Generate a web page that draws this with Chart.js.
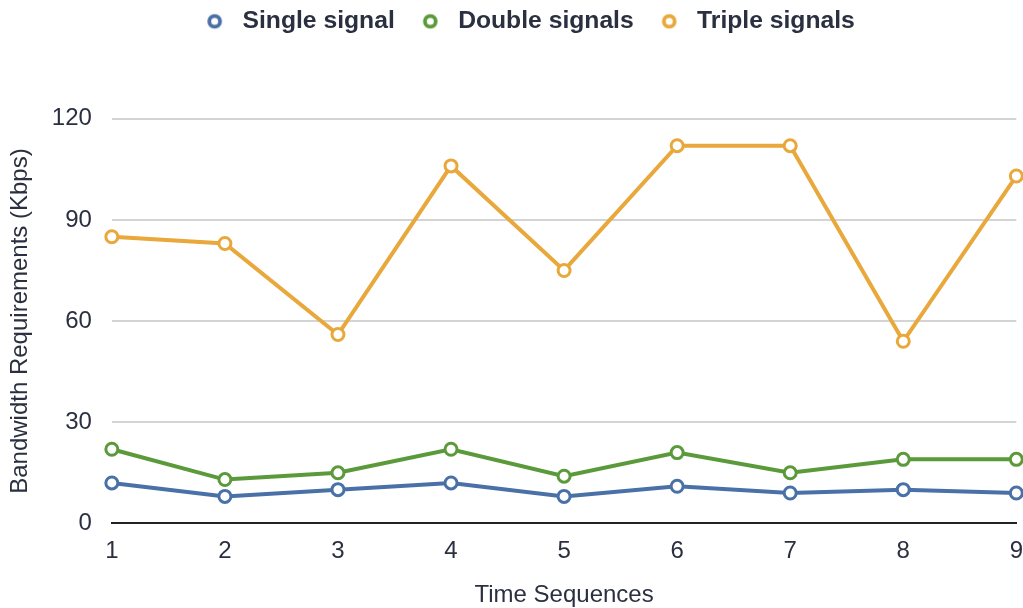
<!DOCTYPE html>
<html>
<head>
<meta charset="utf-8">
<script src="https://cdn.jsdelivr.net/npm/chart.js@4/dist/chart.umd.min.js"></script>
<style>
  html, body { margin: 0; padding: 0; background: #fff; }
  #wrap { width: 1023px; height: 608px; }
</style>
</head>
<body>
<div id="wrap"><canvas id="chart"></canvas></div>
<script>
// Data
const timeLabels = ['1', '2', '3', '4', '5', '6', '7', '8', '9'];
const singleSignal = [12, 8, 10, 12, 8, 11, 9, 10, 9];
const doubleSignals = [22, 13, 15, 22, 14, 21, 15, 19, 19];
const tripleSignals = [85, 83, 56, 106, 75, 112, 112, 54, 103];
const yTicks = [0, 30, 60, 90, 120];

const seriesColors = ['#4a70a8', '#5b9a3a', '#e8a83c'];

function makeSeries(label, data, color) {
    return {
        label: label,
        data: data,
        borderColor: color,
        backgroundColor: color,
        borderWidth: 4,
        pointRadius: 6,
        pointHoverRadius: 6,
        pointBorderWidth: 3,
        pointBackgroundColor: '#ffffff',
        pointBorderColor: color,
        tension: 0,
        clip: false
    };
}

// small ring used as legend marker, drawn left of the box center
function legendMarker(color) {
    const c = document.createElement('canvas');
    c.width = 24;
    c.height = 24;
    const g = c.getContext('2d');
    g.beginPath();
    g.arc(8.5, 12, 5.4, 0, Math.PI * 2);
    g.fillStyle = '#ffffff';
    g.fill();
    g.lineWidth = 3.8;
    g.strokeStyle = color;
    g.stroke();
    return c;
}

const axisFont = { family: '"Liberation Sans", Arial, sans-serif', size: 24 };

const ctx = document.getElementById('chart').getContext('2d');
new Chart(ctx, {
    type: 'line',
    data: {
        labels: timeLabels,
        datasets: [
            makeSeries('Single signal', singleSignal, seriesColors[0]),
            makeSeries('Double signals', doubleSignals, seriesColors[1]),
            makeSeries('Triple signals', tripleSignals, seriesColors[2])
        ]
    },
    options: {
        responsive: true,
        maintainAspectRatio: false,
        animation: false,
        layout: { autoPadding: false, padding: { top: -18, left: 6, right: 0, bottom: -2 } },
        plugins: {
            tooltip: { enabled: false },
            legend: {
                position: 'top',
                labels: {
                    usePointStyle: true,
                    boxWidth: 24,
                    boxHeight: 24,
                    padding: 27,
                    color: '#2b3040',
                    font: { family: '"Liberation Sans", Arial, sans-serif', size: 24.7, weight: 'bold' },
                    generateLabels: function (chart) {
                        return chart.data.datasets.map(function (ds, i) {
                            return {
                                text: ds.label,
                                fillStyle: '#ffffff',
                                strokeStyle: ds.borderColor,
                                lineWidth: 0,
                                pointStyle: legendMarker(seriesColors[i]),
                                fontColor: '#2b3040',
                                datasetIndex: i
                            };
                        });
                    }
                }
            }
        },
        scales: {
            x: {
                offset: false,
                grid: { display: false, drawTicks: true, tickLength: 14 },
                border: { display: true, color: '#222222', width: 2 },
                ticks: {
                    color: '#2b3040',
                    padding: 0,
                    maxRotation: 0,
                    font: axisFont
                },
                title: {
                    display: true,
                    text: 'Time Sequences',
                    color: '#2b3040',
                    padding: { top: 15, bottom: 0 },
                    font: axisFont
                }
            },
            y: {
                min: 0,
                max: 120,
                afterBuildTicks: function (axis) {
                    axis.ticks = yTicks.map(function (v) { return { value: v }; });
                },
                grid: { color: '#d4d4d4', lineWidth: 2, drawTicks: false },
                border: { display: false },
                ticks: {
                    color: '#2b3040',
                    padding: 20,
                    font: axisFont
                },
                title: {
                    display: true,
                    text: 'Bandwidth Requirements (Kbps)',
                    color: '#2b3040',
                    padding: { top: 0, bottom: -3 },
                    font: axisFont
                }
            }
        }
    },
    plugins: [{
        id: 'legendGap',
        beforeInit: function (chart) {
            const fit = chart.legend.fit;
            chart.legend.fit = function () {
                fit.bind(chart.legend)();
                this.height += 75;
            };
        },
        afterLayout: function (chart) {
            // the legend sits a bit right of the page centre in the reference
            chart.legend.left += 16;
            chart.legend.right += 16;
        }
    }]
});
</script>
</body>
</html>
